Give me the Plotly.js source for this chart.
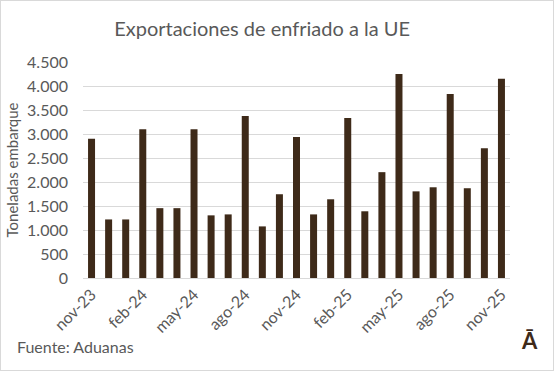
<!DOCTYPE html>
<html>
<head>
<meta charset="utf-8">
<script src="https://cdn.plot.ly/plotly-3.0.1.min.js"></script>
<style>
html,body{margin:0;padding:0;background:#fff;}
#wrap{width:554px;height:371px;box-sizing:border-box;border:1px solid #d9d9d9;position:relative;}
#chart{width:552px;height:369px;}
</style>
</head>
<body>
<div id="wrap"><div id="chart"></div></div>
<script>
const months = ['nov-23','dic-23','ene-24','feb-24','mar-24','abr-24','may-24','jun-24','jul-24','ago-24','sep-24','oct-24','nov-24','dic-24','ene-25','feb-25','mar-25','abr-25','may-25','jun-25','jul-25','ago-25','sep-25','oct-25','nov-25'];
const toneladas = [2900,1220,1220,3100,1455,1455,3100,1305,1325,3375,1075,1745,2935,1325,1640,3335,1390,2205,4250,1805,1890,3835,1870,2705,4150];
const tickLabels = ['nov-23','feb-24','may-24','ago-24','nov-24','feb-25','may-25','ago-25','nov-25'];
const yTicks = [0,500,1000,1500,2000,2500,3000,3500,4000,4500];

const txt = '#595959';
const fontFam = 'Lato, "Open Sans", sans-serif';

const data = [{
  type: 'bar',
  x: months,
  y: toneladas,
  marker: {color: '#3e2a19'},
  hoverinfo: 'x+y'
}];

const layout = {
  width: 552, height: 369,
  margin: {l: 82, r: 43, t: 61, b: 92},
  paper_bgcolor: '#fff', plot_bgcolor: '#fff',
  separators: ',.',
  bargap: 0.59,
  font: {family: fontFam, color: txt, size: 16},
  title: {text: 'Exportaciones de enfriado a la UE', x: 0.473, xanchor: 'center', y: 0.925, yanchor: 'middle',
          font: {family: fontFam, size: 20, color: txt}},
  xaxis: {
    type: 'category',
    tickmode: 'array', tickvals: tickLabels, ticktext: tickLabels,
    tickangle: -45, ticks: '', showgrid: false,
    showline: true, linecolor: '#d9d9d9', linewidth: 1,
    tickfont: {size: 16, color: txt, family: fontFam},
    fixedrange: true
  },
  yaxis: {
    range: [0, 4500], tickmode: 'array', tickvals: yTicks,
    tickformat: ',d',
    showgrid: true, gridcolor: '#d9d9d9', gridwidth: 1,
    zeroline: false, showline: false, ticks: '',
    tickfont: {size: 16, color: txt, family: fontFam},
    ticklabelstandoff: 14,
    title: {text: 'Toneladas embarque', font: {size: 15, color: txt, family: fontFam}, standoff: 4},
    fixedrange: true
  },
  annotations: [
    {text: 'Fuente: Aduanas', xref: 'paper', yref: 'paper', x: -0.16, y: -0.315, xanchor: 'left', yanchor: 'middle',
     showarrow: false, font: {size: 16, color: txt, family: fontFam}},
    {text: '<b>Ā</b>', xref: 'paper', yref: 'paper', x: 1.045, y: -0.29, xanchor: 'center', yanchor: 'middle',
     showarrow: false, font: {size: 22, color: '#3e2a19', family: 'Lato, sans-serif'}}
  ],
  showlegend: false
};

Plotly.newPlot('chart', data, layout, {displayModeBar: false, staticPlot: true});
</script>
</body>
</html>
